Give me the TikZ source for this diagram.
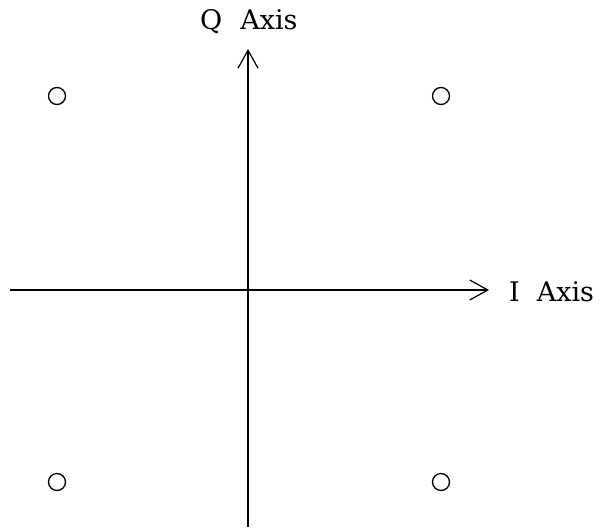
\documentclass[tikz,border=0pt]{standalone}
\usepackage{fontspec}
\setmainfont{DejaVu Serif}
\usetikzlibrary{arrows.meta}
\tikzset{
  axisline/.style={line width=1.5pt, -{Straight Barb[length=18pt, width=20pt, line width=1.2pt]}},
  point/.style={draw, circle, line width=1.3pt, minimum size=17pt, inner sep=0pt},
  axislabel/.style={font=\fontsize{27}{32}\selectfont, inner sep=0pt, anchor=base west}
}
\begin{document}
\begin{tikzpicture}[x=1pt, y=-1pt]
\useasboundingbox (0,0) rectangle (600,529);
% axes
\coordinate (ibeg) at (10,290);
\coordinate (iend) at (489,290);
\coordinate (qbeg) at (248,527);
\coordinate (qend) at (248,49);
\draw[axisline] (ibeg) -- (iend);
\draw[axisline] (qbeg) -- (qend);
\node[axislabel] (ilabel) at (509,302) {I\hspace{17pt}Axis};
\node[axislabel] (qlabel) at (200,30) {Q\hspace{18pt}Axis};
% constellation points
\node[point] (p1) at (57,96) {};
\node[point] (p2) at (441,96) {};
\node[point] (p3) at (57,482) {};
\node[point] (p4) at (441,482) {};
\end{tikzpicture}
\end{document}
